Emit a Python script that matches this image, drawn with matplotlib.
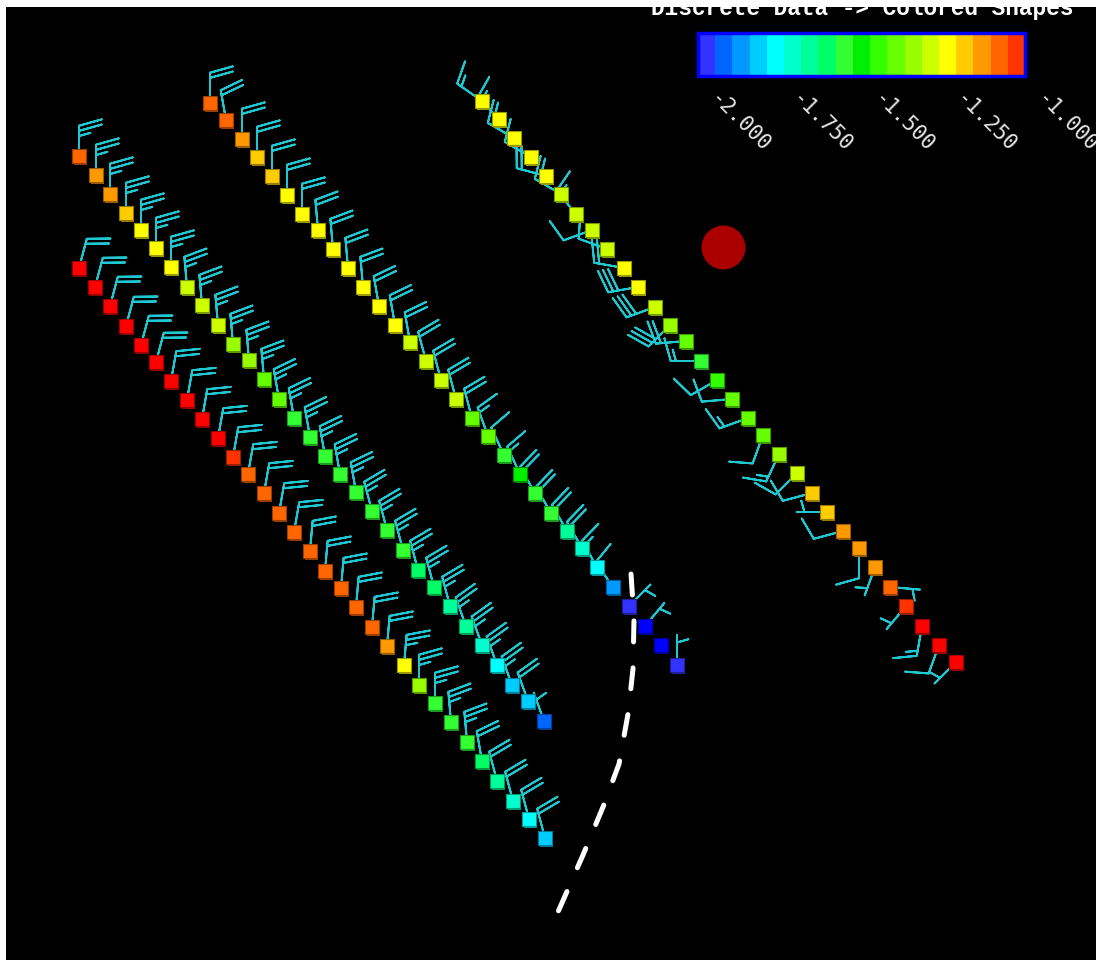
import numpy as np
import matplotlib.pyplot as plt
from matplotlib.colors import ListedColormap, Normalize
from matplotlib.cm import ScalarMappable
from matplotlib.transforms import ScaledTranslation

W, H = 1096, 962

# station tracks: screen position, data value, wind from (deg), wind speed (kt)
track_a_x = [79, 96, 110, 126, 141, 156, 171, 187, 202, 218, 233, 249, 264, 279, 294, 310,
             325, 340, 356, 372, 387, 403, 418, 434, 450, 466, 482, 497, 512, 528, 544]
track_a_y = [157, 176, 195, 214, 231, 249, 268, 288, 306, 326, 345, 361, 380, 400, 419, 438,
             457, 475, 493, 512, 531, 551, 571, 588, 607, 627, 646, 666, 686, 702, 722]
track_a_val = [-1.08, -1.13, -1.13, -1.18, -1.24, -1.24, -1.24, -1.29, -1.29, -1.29, -1.34,
               -1.34, -1.39, -1.39, -1.55, -1.55, -1.55, -1.55, -1.55, -1.55, -1.55, -1.55,
               -1.61, -1.61, -1.66, -1.66, -1.71, -1.76, -1.82, -1.82, -1.92]
track_a_dir = [0, 0, 0, 0, 0, 0, 0, 355, 355, 355, 355, 355, 355, 350, 350, 350,
               350, 350, 350, 345, 345, 345, 345, 345, 345, 340, 340, 340, 340, 340, 340]
track_a_spd = [25, 25, 25, 25, 25, 25, 25, 25, 25, 25, 25, 25, 25, 25, 25, 25,
               25, 25, 25, 25, 25, 25, 25, 25, 25, 25, 25, 25, 25, 20, 5]

track_b_x = [79, 95, 110, 126, 141, 156, 171, 187, 202, 218, 233, 248, 264, 279, 294, 310,
             325, 341, 356, 372, 387, 404, 419, 435, 451, 467, 482, 497, 513, 529, 545]
track_b_y = [269, 288, 307, 327, 346, 363, 382, 401, 420, 439, 458, 475, 494, 514, 533, 552,
             572, 589, 608, 628, 647, 666, 686, 704, 723, 743, 762, 782, 802, 820, 839]
track_b_val = [-0.97, -0.97, -0.97, -0.97, -0.97, -0.97, -0.97, -0.97, -0.97, -0.97, -1.03,
               -1.08, -1.08, -1.08, -1.08, -1.08, -1.08, -1.08, -1.08, -1.08, -1.13, -1.24,
               -1.34, -1.55, -1.55, -1.55, -1.61, -1.66, -1.71, -1.76, -1.82]
track_b_dir = [15, 15, 15, 15, 15, 15, 10, 10, 10, 10, 10, 10, 10, 10, 10, 5,
               5, 5, 5, 5, 5, 5, 0, 0, 355, 355, 350, 345, 345, 345, 345]
track_b_spd = [20, 20, 20, 20, 20, 20, 20, 20, 20, 20, 20, 20, 20, 20, 20, 20,
               20, 20, 20, 20, 20, 25, 25, 25, 25, 25, 20, 20, 20, 20, 20]

track_c_x = [210, 226, 242, 257, 272, 287, 302, 318, 333, 348, 363, 379, 395, 410, 426, 441,
             456, 472, 488, 504, 520, 535, 551, 567, 582, 597, 613, 629, 645, 661, 677]
track_c_y = [104, 121, 140, 158, 177, 196, 215, 231, 250, 269, 288, 307, 326, 343, 362, 381,
             400, 419, 437, 456, 475, 494, 514, 532, 549, 568, 588, 607, 627, 646, 666]
track_c_val = [-1.08, -1.08, -1.13, -1.18, -1.18, -1.24, -1.24, -1.24, -1.24, -1.24, -1.24,
               -1.24, -1.24, -1.29, -1.29, -1.29, -1.29, -1.39, -1.39, -1.55, -1.50, -1.55,
               -1.55, -1.66, -1.71, -1.76, -1.87, -1.97, -2.03, -2.03, -1.97]
track_c_dir = [0, 350, 0, 0, 0, 0, 0, 355, 355, 355, 355, 350, 350, 350, 345, 345,
               345, 345, 340, 335, 335, 330, 330, 330, 330, 330, 325, 45, 40, 0, 0]
track_c_spd = [20, 20, 20, 20, 20, 20, 20, 20, 20, 20, 20, 20, 20, 20, 20, 20,
               20, 20, 15, 10, 15, 20, 20, 20, 20, 15, 10, 5, 5, 0, 5]

track_d_x = [482, 499, 514, 531, 546, 561, 576, 592, 607, 624, 638, 655, 670, 686, 701, 717,
             732, 748, 763, 779, 797, 812, 827, 843, 859, 875, 890, 906, 922, 939, 956]
track_d_y = [102, 120, 139, 158, 177, 195, 215, 231, 250, 269, 288, 308, 326, 342, 362, 381,
             400, 419, 436, 455, 474, 494, 513, 532, 549, 568, 588, 607, 627, 646, 663]
track_d_val = [-1.24, -1.24, -1.24, -1.24, -1.24, -1.29, -1.29, -1.29, -1.29, -1.24, -1.24,
               -1.29, -1.34, -1.39, -1.55, -1.45, -1.39, -1.39, -1.39, -1.34, -1.29, -1.18,
               -1.18, -1.13, -1.13, -1.13, -1.08, -1.03, -0.97, -0.97, -0.97]
track_d_dir = [305, 315, 300, 300, 285, 300, 320, 250, 290, 280, 260, 250, 225, 265, 270, 240,
               265, 250, 200, 205, 225, 255, 270, 255, 180, 200, 95, 220, 190, 200, 225]
track_d_spd = [15, 15, 20, 15, 20, 20, 15, 10, 10, 20, 30, 30, 30, 20, 15, 10,
               10, 15, 10, 15, 10, 10, 5, 10, 10, 5, 5, 5, 15, 10, 5]

# dashed front line and the single marker
front_x = [631, 634, 633, 628, 619, 603, 583, 565, 554]
front_y = [575, 620, 670, 715, 765, 808, 856, 897, 922]
spot_x, spot_y = [723], [248]

bar_colors = ['#3333ff', '#0066ff', '#0099ff', '#00ccff', '#00ffff', '#00ffcc', '#00ff99',
              '#00ff66', '#33ff33', '#00ee00', '#33ff00', '#66ff00', '#99ff00', '#ccff00',
              '#ffff00', '#ffcc00', '#ff9900', '#ff6600', '#ff3300']
bar_ticks = [-2.0, -1.75, -1.5, -1.25, -1.0]
bar_labels = ['-2.000', '-1.750', '-1.500', '-1.250', '-1.000']

cmap = ListedColormap(bar_colors)
cmap.set_under('#0000ff')
cmap.set_over('#ff0000')
norm = Normalize(vmin=-2.0, vmax=-1.0)

fig = plt.figure(figsize=(W / 100, H / 100), dpi=100, facecolor='white')
ax = fig.add_axes([6 / W, 1 / H, 1090 / W, 953 / H])
ax.set_facecolor('black')
ax.set_xlim(6, 1096)
ax.set_ylim(961, 8)
ax.set_xticks([])
ax.set_yticks([])
for s in ax.spines.values():
    s.set_visible(False)

shadow = ax.transData + ScaledTranslation(1.5 / 100, -2.5 / 100, fig.dpi_scale_trans)
tracks = [(track_a_x, track_a_y, track_a_val, track_a_dir, track_a_spd),
          (track_b_x, track_b_y, track_b_val, track_b_dir, track_b_spd),
          (track_c_x, track_c_y, track_c_val, track_c_dir, track_c_spd),
          (track_d_x, track_d_y, track_d_val, track_d_dir, track_d_spd)]

for tx, ty, tv, td, ts in tracks:
    tx = np.array(tx, float)
    ty = np.array(ty, float)
    rad = np.deg2rad(td)
    spd = np.array(ts, float)
    u = -spd * np.sin(rad)
    v = -spd * np.cos(rad)
    # barb length: shaft comes out at about 30 px
    ax.barbs(tx, ty, u, v, length=6.6, color='#1fc8d0', linewidth=1.4, zorder=2,
             sizes=dict(spacing=0.17, height=0.75, width=0.42, emptybarb=0.0))
    face = cmap(norm(np.array(tv)))
    dark = face.copy()
    dark[:, :3] *= 0.6
    ax.scatter(tx, ty, s=92, marker='s', c=dark, transform=shadow, zorder=3, linewidths=0)
    ax.scatter(tx, ty, s=92, marker='s', c=face, edgecolors=dark, linewidths=0.8, zorder=4)

ax.plot(front_x, front_y, color='white', lw=3.6, dashes=(4.2, 5.2),
        solid_capstyle='round', dash_capstyle='round', zorder=5)
ax.scatter(spot_x, spot_y, s=1000, color='#aa0000', zorder=5, linewidths=0)

# colour bar
cax = fig.add_axes([698 / W, 1 - 77 / H, 327 / W, 43 / H])
cb = fig.colorbar(ScalarMappable(norm=norm, cmap=cmap), cax=cax, orientation='horizontal')
cb.outline.set_edgecolor('#0000ff')
cb.outline.set_linewidth(2.5)
cax.set_xticks([])
lab_tr = cax.get_xaxis_transform() + ScaledTranslation(15 / 100, -19 / 100, fig.dpi_scale_trans)
for t, lab in zip(bar_ticks, bar_labels):
    cax.text(t, 0, lab, transform=lab_tr, rotation=-45, rotation_mode='anchor',
             ha='left', va='center', color='#e6e6e6', family='DejaVu Sans Mono',
             fontsize=15, clip_on=False)

fig.text(862 / W, 1 - 15 / H, 'Discrete Data -> Colored Shapes', ha='center', va='baseline',
         color='white', family='Liberation Mono', fontweight='bold', fontsize=16.4, zorder=10)

fig.savefig('out.png', dpi=100, facecolor='white')
